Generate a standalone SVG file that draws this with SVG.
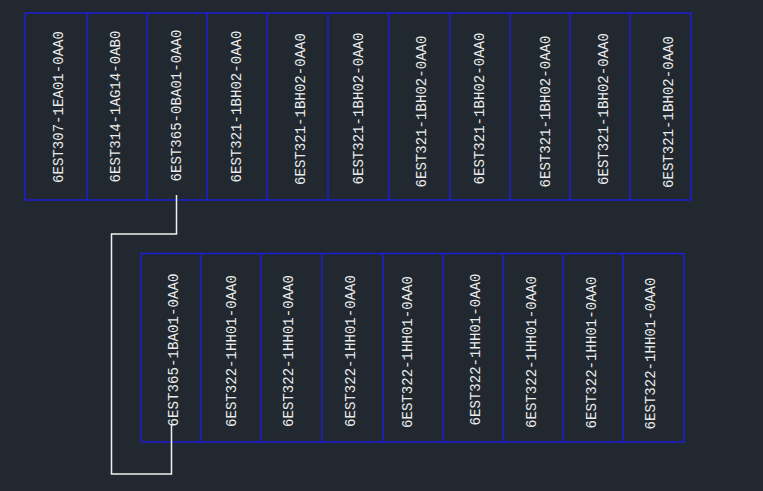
<svg xmlns="http://www.w3.org/2000/svg" width="763" height="491" viewBox="0 0 763 491">
<style>
.bg{fill:#212830}
.box{fill:none;stroke:#1e1ed6;stroke-width:1.5}
.div{stroke:#1e1ed6;stroke-width:1.5}
.t{font-family:"Liberation Mono","DejaVu Sans Mono",monospace;font-size:15px;fill:#ececec;text-anchor:middle;dominant-baseline:central}
.wire{fill:none;stroke:#f0f0f0;stroke-width:1.5}
</style>
<rect class="bg" x="0" y="0" width="763" height="491"/>
<g id="rack1">
<rect class="box" x="25" y="13" width="666" height="187"/>
<g class="div">
<line x1="87" y1="13" x2="87" y2="200"/><line x1="147" y1="13" x2="147" y2="200"/><line x1="207" y1="13" x2="207" y2="200"/><line x1="267" y1="13" x2="267" y2="200"/><line x1="328" y1="13" x2="328" y2="200"/><line x1="389" y1="13" x2="389" y2="200"/><line x1="450" y1="13" x2="450" y2="200"/><line x1="510" y1="13" x2="510" y2="200"/><line x1="570" y1="13" x2="570" y2="200"/><line x1="630" y1="13" x2="630" y2="200"/>
</g>
</g>
<g id="m1"><text class="t" transform="translate(59,107) rotate(-90)" textLength="152" lengthAdjust="spacingAndGlyphs">6EST307-1EA01-0AA0</text></g>
<g id="m2"><text class="t" transform="translate(116,106.5) rotate(-90)" textLength="152" lengthAdjust="spacingAndGlyphs">6EST314-1AG14-0AB0</text></g>
<g id="m3"><text class="t" transform="translate(177,105.5) rotate(-90)" textLength="152" lengthAdjust="spacingAndGlyphs">6EST365-0BA01-0AA0</text></g>
<g id="m4"><text class="t" transform="translate(237,106.5) rotate(-90)" textLength="152" lengthAdjust="spacingAndGlyphs">6EST321-1BH02-0AA0</text></g>
<g id="m5"><text class="t" transform="translate(301,109) rotate(-90)" textLength="152" lengthAdjust="spacingAndGlyphs">6EST321-1BH02-0AA0</text></g>
<g id="m6"><text class="t" transform="translate(359,108.5) rotate(-90)" textLength="152" lengthAdjust="spacingAndGlyphs">6EST321-1BH02-0AA0</text></g>
<g id="m7"><text class="t" transform="translate(422.5,111.5) rotate(-90)" textLength="152" lengthAdjust="spacingAndGlyphs">6EST321-1BH02-0AA0</text></g>
<g id="m8"><text class="t" transform="translate(480,108.5) rotate(-90)" textLength="152" lengthAdjust="spacingAndGlyphs">6EST321-1BH02-0AA0</text></g>
<g id="m9"><text class="t" transform="translate(546,111.5) rotate(-90)" textLength="152" lengthAdjust="spacingAndGlyphs">6EST321-1BH02-0AA0</text></g>
<g id="m10"><text class="t" transform="translate(604,109) rotate(-90)" textLength="152" lengthAdjust="spacingAndGlyphs">6EST321-1BH02-0AA0</text></g>
<g id="m11"><text class="t" transform="translate(669,112) rotate(-90)" textLength="152" lengthAdjust="spacingAndGlyphs">6EST321-1BH02-0AA0</text></g>
<g id="rack2">
<rect class="box" x="141" y="253.5" width="543" height="188.5"/>
<g class="div">
<line x1="201" y1="253.5" x2="201" y2="442"/><line x1="261" y1="253.5" x2="261" y2="442"/><line x1="322" y1="253.5" x2="322" y2="442"/><line x1="383" y1="253.5" x2="383" y2="442"/><line x1="443" y1="253.5" x2="443" y2="442"/><line x1="503" y1="253.5" x2="503" y2="442"/><line x1="563" y1="253.5" x2="563" y2="442"/><line x1="623" y1="253.5" x2="623" y2="442"/>
</g>
</g>
<g id="n1"><text class="t" transform="translate(174,350) rotate(-90)" textLength="153" lengthAdjust="spacingAndGlyphs">6EST365-1BA01-0AA0</text></g>
<g id="n2"><text class="t" transform="translate(232.5,351) rotate(-90)" textLength="152" lengthAdjust="spacingAndGlyphs">6EST322-1HH01-0AA0</text></g>
<g id="n3"><text class="t" transform="translate(289,351) rotate(-90)" textLength="152" lengthAdjust="spacingAndGlyphs">6EST322-1HH01-0AA0</text></g>
<g id="n4"><text class="t" transform="translate(351.5,351) rotate(-90)" textLength="152" lengthAdjust="spacingAndGlyphs">6EST322-1HH01-0AA0</text></g>
<g id="n5"><text class="t" transform="translate(408,352) rotate(-90)" textLength="152" lengthAdjust="spacingAndGlyphs">6EST322-1HH01-0AA0</text></g>
<g id="n6"><text class="t" transform="translate(476.5,349.5) rotate(-90)" textLength="152" lengthAdjust="spacingAndGlyphs">6EST322-1HH01-0AA0</text></g>
<g id="n7"><text class="t" transform="translate(532.5,352) rotate(-90)" textLength="152" lengthAdjust="spacingAndGlyphs">6EST322-1HH01-0AA0</text></g>
<g id="n8"><text class="t" transform="translate(592,352.5) rotate(-90)" textLength="152" lengthAdjust="spacingAndGlyphs">6EST322-1HH01-0AA0</text></g>
<g id="n9"><text class="t" transform="translate(651,353.5) rotate(-90)" textLength="152" lengthAdjust="spacingAndGlyphs">6EST322-1HH01-0AA0</text></g>
<g id="connectors">
<polyline class="wire" points="176.5,195 176.5,234 111.5,234 111.5,474 171.5,474 171.5,424"/>
</g>
</svg>
